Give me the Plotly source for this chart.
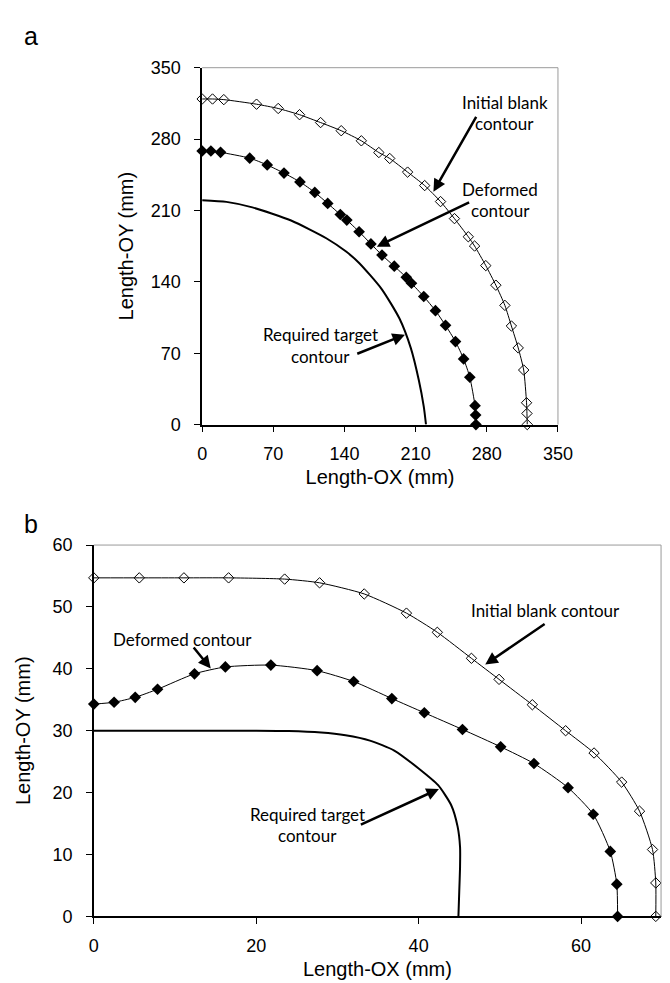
import plotly.graph_objects as go

# ---------------- Panel a data (mm) ----------------
a_init_x = [0, 10.2, 21.3, 53.5, 74.8, 95.8, 116.5, 136.8, 156.6, 173.8, 184.5, 202.1, 218.9,
            234.5, 248.2, 261.8, 268.0, 279.0, 288.9, 297.8, 304.2, 310.9, 316.3, 319.1, 319.5, 319.8]
a_init_y = [319.3, 319.3, 318.7, 314.2, 310.0, 303.9, 296.2, 288.2, 278.3, 266.8, 261.0, 247.6, 234.4,
            218.7, 202.0, 184.2, 175.1, 155.9, 136.7, 116.9, 96.7, 75.2, 53.5, 21.4, 10.9, 0]
a_def_x = [0, 8.6, 18.1, 46.8, 64.0, 80.5, 96.2, 110.8, 123.5, 135.9, 142.3, 154.4, 166.0,
           176.9, 189.0, 200.8, 205.9, 218.0, 229.5, 239.4, 249.2, 257.2, 263.3, 268.4, 269.0, 269.3]
a_def_y = [268.3, 268.3, 267.0, 261.3, 254.6, 246.6, 238.0, 227.7, 216.9, 206.0, 200.6, 189.1, 177.2,
           166.2, 155.3, 144.4, 138.6, 125.6, 111.7, 97.3, 81.4, 64.4, 46.4, 18.5, 9.3, 0]
a_tgt_x = [0, 23.9, 49.4, 87.5, 122.5, 141.6, 154.4, 176.6, 194.1, 205.2, 213.2, 218.0, 220.2]
a_tgt_y = [220.0, 218.4, 213.0, 200.1, 182.5, 169.7, 158.5, 132.9, 104.0, 75.2, 43.2, 17.6, 0]
a_ticks = [0, 70, 140, 210, 280, 350]

# ---------------- Panel b data (mm) ----------------
b_init_x = [0, 5.6, 11.1, 16.6, 23.5, 27.8, 33.3, 38.5, 42.3, 46.5, 49.9, 54.0, 58.1, 61.6,
            65.0, 67.2, 68.8, 69.2, 69.2]
b_init_y = [54.7, 54.7, 54.7, 54.7, 54.5, 53.9, 52.1, 49.0, 45.9, 41.7, 38.3, 34.2, 30.0, 26.4,
            21.7, 17.0, 10.8, 5.4, 0]
b_def_x = [0, 2.5, 5.1, 7.85, 12.4, 16.2, 21.8, 27.5, 32.0, 36.7, 40.7, 45.4, 50.1, 54.2,
           58.4, 61.5, 63.6, 64.4, 64.5]
b_def_y = [34.3, 34.6, 35.4, 36.7, 39.2, 40.3, 40.6, 39.7, 37.95, 35.2, 32.9, 30.2, 27.4, 24.7,
           20.8, 16.5, 10.5, 5.2, 0]
b_tgt_x = [0, 10, 20, 24, 28, 31, 34, 37, 40, 42.4, 44.0, 44.8, 45.1, 45.1, 45.0, 44.9]
b_tgt_y = [30.0, 30.0, 30.0, 29.95, 29.7, 29.25, 28.4, 26.8, 23.9, 21.2, 18.0, 14.5, 11.2, 8.0, 4.0, 0]
b_xticks = [0, 20, 40, 60]
b_yticks = [0, 10, 20, 30, 40, 50, 60]

TICK_FONT = dict(family="Arial, Liberation Sans, sans-serif", size=18, color="black")
TITLE_FONT = dict(family="Arial, Liberation Sans, sans-serif", size=20, color="black")
ANN_FONT = dict(family="Lato, Carlito, sans-serif", size=17, color="black")

fig = go.Figure()

def add_series(xs, ys, xa, ya, kind):
    if kind == "init":
        fig.add_trace(go.Scatter(x=xs, y=ys, xaxis=xa, yaxis=ya, mode="lines+markers",
                                 line=dict(color="black", width=1, shape="spline", smoothing=0.6),
                                 marker=dict(symbol="diamond-open", size=8, color="black",
                                             line=dict(width=1, color="black")),
                                 cliponaxis=False, showlegend=False))
    elif kind == "def":
        fig.add_trace(go.Scatter(x=xs, y=ys, xaxis=xa, yaxis=ya, mode="lines+markers",
                                 line=dict(color="black", width=1, shape="spline", smoothing=0.6),
                                 marker=dict(symbol="diamond", size=9, color="black"),
                                 cliponaxis=False, showlegend=False))
    else:
        fig.add_trace(go.Scatter(x=xs, y=ys, xaxis=xa, yaxis=ya, mode="lines",
                                 line=dict(color="black", width=2, shape="spline", smoothing=0.6),
                                 cliponaxis=False, showlegend=False))

add_series(a_tgt_x, a_tgt_y, "x", "y", "tgt")
add_series(a_init_x, a_init_y, "x", "y", "init")
add_series(a_def_x, a_def_y, "x", "y", "def")
add_series(b_tgt_x, b_tgt_y, "x2", "y2", "tgt")
add_series(b_init_x, b_init_y, "x2", "y2", "init")
add_series(b_def_x, b_def_y, "x2", "y2", "def")

axis_common = dict(showgrid=False, zeroline=False, showline=True, linecolor="black", linewidth=1.5,
                   ticks="outside", ticklen=6, tickwidth=1, tickcolor="black",
                   tickfont=TICK_FONT, fixedrange=True)

fig.update_layout(
    width=670, height=983, margin=dict(l=0, r=0, t=0, b=0),
    paper_bgcolor="white", plot_bgcolor="white",
    xaxis=dict(domain=[0.2910, 0.8384], range=[0, 350], tickvals=a_ticks, anchor="y",
               ticklabelstandoff=6,
               title=dict(text="Length-OX (mm)", font=TITLE_FONT, standoff=7), **axis_common),
    yaxis=dict(domain=[0.5778, 0.9484], range=[0, 350], tickvals=a_ticks, anchor="x",
               ticklabelstandoff=10,
               title=dict(text="Length-OY (mm)", font=TITLE_FONT, standoff=12), **axis_common),
    xaxis2=dict(domain=[0.1243, 0.997], range=[0, 69.85], tickvals=b_xticks, anchor="y2",
                ticklabelstandoff=6,
                title=dict(text="Length-OX (mm)", font=TITLE_FONT, standoff=7), **axis_common),
    yaxis2=dict(domain=[0.0671, 0.4527], range=[0, 60], tickvals=b_yticks, anchor="x2",
                ticklabelstandoff=10,
                title=dict(text="Length-OY (mm)", font=TITLE_FONT, standoff=16), **axis_common),
)

# gray plot-area border (top and right)
for xr, yr in (("x", "y"), ("x2", "y2")):
    fig.add_shape(type="line", xref=f"{xr} domain", yref=f"{yr} domain", x0=0, x1=1, y0=1, y1=1,
                  line=dict(color="#9a9a9a", width=1))
    fig.add_shape(type="line", xref=f"{xr} domain", yref=f"{yr} domain", x0=1, x1=1, y0=0, y1=1,
                  line=dict(color="#9a9a9a", width=1))

def label(text, x, y, xr, yr):
    fig.add_annotation(text=text, x=x, y=y, xref=xr, yref=yr, showarrow=False,
                       font=ANN_FONT, xanchor="center", yanchor="middle")

def arrow(hx, hy, tx, ty, xr, yr):
    fig.add_annotation(text="", x=hx, y=hy, ax=tx, ay=ty, xref=xr, yref=yr, axref=xr, ayref=yr,
                       showarrow=True, arrowhead=2, arrowsize=1, arrowwidth=2.5, arrowcolor="black")

# panel a annotations
label("Initial blank", 297.5, 316.0, "x", "y")
label("contour", 297.5, 295.2, "x", "y")
arrow(227.5, 228.3, 270.4, 303.3, "x", "y")
label("Deformed", 292.6, 230.5, "x", "y")
label("contour", 293.7, 209.7, "x", "y")
arrow(171.8, 174.5, 264.1, 218.7, "x", "y")
label("Required target", 116.9, 88.1, "x", "y")
label("contour", 116.9, 66.3, "x", "y")
arrow(199.5, 88.1, 151.1, 68.9, "x", "y")

# panel b annotations
label("Initial blank contour", 55.6, 49.4, "x2", "y2")
arrow(48.2, 40.7, 55.7, 47.4, "x2", "y2")
label("Deformed contour", 10.95, 44.8, "x2", "y2")
arrow(14.4, 40.05, 12.15, 43.7, "x2", "y2")
label("Required target", 26.3, 16.5, "x2", "y2")
label("contour", 26.3, 13.1, "x2", "y2")
arrow(42.5, 20.6, 32.7, 14.7, "x2", "y2")

# panel letters
PANEL_FONT = dict(family="Arial, Liberation Sans, sans-serif", size=25, color="black")
fig.add_annotation(text="a", x=19 / 670, y=1 - 18 / 983, xref="paper", yref="paper",
                   showarrow=False, font=PANEL_FONT, xanchor="center", yanchor="middle")
fig.add_annotation(text="b", x=19 / 670, y=1 - 517 / 983, xref="paper", yref="paper",
                   showarrow=False, font=PANEL_FONT, xanchor="center", yanchor="middle")

fig.write_html("out.html")
